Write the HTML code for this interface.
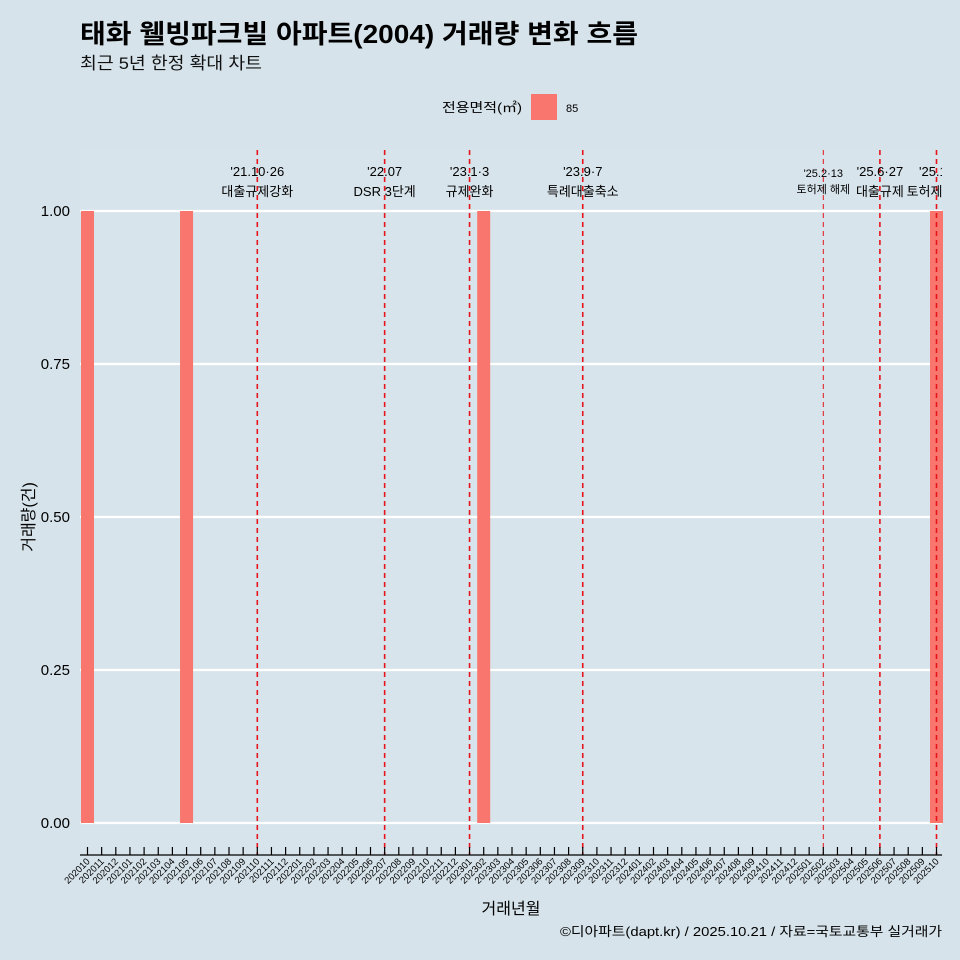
<!DOCTYPE html>
<html><head><meta charset="utf-8"><style>
html,body{margin:0;padding:0;overflow:hidden;width:960px;height:960px;background:#d6e3ea;font-family:"Liberation Sans","Noto Sans CJK KR",sans-serif;}
svg{display:block}
svg text{font-family:"Liberation Sans","Noto Sans CJK KR",sans-serif;}
</style></head><body>
<svg width="960" height="960" xmlns="http://www.w3.org/2000/svg">
<rect width="960" height="960" fill="#d6e3ea"/>
<text x="80" y="43" font-size="26" font-weight="bold" fill="#000" textLength="558" lengthAdjust="spacingAndGlyphs">태화 웰빙파크빌 아파트(2004) 거래량 변화 흐름</text>
<text x="80" y="69" font-size="17" fill="#111" textLength="182" lengthAdjust="spacingAndGlyphs">최근 5년 한정 확대 차트</text>
<g>
<text x="442" y="112" font-size="13" textLength="80" lengthAdjust="spacingAndGlyphs">전용면적(㎡)</text>
<rect x="531" y="94" width="26" height="26" fill="#f8766d"/>
<text x="566" y="112" font-size="11">85</text>
</g>
<defs><clipPath id="pc"><rect x="80" y="140" width="862" height="720"/></clipPath></defs>
<rect x="80" y="150" width="862" height="705" fill="#d7e4eb"/>
<g id="grid"></g><g id="bars"></g><g id="events" clip-path="url(#pc)"></g><g id="xaxis"></g><g id="yaxis"></g>
<text x="511" y="914" font-size="16" text-anchor="middle">거래년월</text>
<text transform="translate(34,517) rotate(-90)" font-size="16" text-anchor="middle">거래량(건)</text>
<text x="942" y="936" font-size="13" text-anchor="end" textLength="382" lengthAdjust="spacingAndGlyphs">©디아파트(dapt.kr) / 2025.10.21 / 자료=국토교통부 실거래가</text>
</svg>
<script>
const months=[];for(let y=2020,m=10;y*100+m<=202510;){months.push(''+y+(m<10?'0':'')+m);m++;if(m>12){m=1;y++;}}
const barMonths=['202010','202105','202302','202510'];
const barValues=[1,1,1,1];
const yTicks=[0,0.25,0.5,0.75,1];
const yTickLabels=['0.00','0.25','0.50','0.75','1.00'];
const eventMonths=['202110','202207','202301','202309','202502','202506','202510'];
const eventDates=["'21.10·26","'22.07","'23.1·3","'23.9·7","'25.2·13","'25.6·27","'25.10"];
const eventLabels=['대출규제강화','DSR 3단계','규제완화','특례대출축소','토허제 해제','대출규제','토허제확대'];
const NS='http://www.w3.org/2000/svg';
const xS=m=>87.5+months.indexOf(m)*14.15;
const yS=v=>823-v*612;
function mk(t,a,p){const e=document.createElementNS(NS,t);for(const k in a)e.setAttribute(k,a[k]);p.appendChild(e);return e;}
const grid=document.getElementById('grid'),yax=document.getElementById('yaxis');
yTicks.forEach((v,i)=>{
const l=mk('line',{x1:80,x2:942,y1:yS(v),y2:yS(v),stroke:'#fff','stroke-width':2.2},grid);


const t=mk('text',{x:70,y:yS(v)+5,'font-size':15,'text-anchor':'end'},yax);t.textContent=yTickLabels[i];


});
const bars=document.getElementById('bars');
barMonths.forEach((m,i)=>{
const r=mk('rect',{x:xS(m)-6.5,y:yS(barValues[i]),width:13,height:yS(0)-yS(barValues[i]),fill:'#f8766d'},bars);


});
const ev=document.getElementById('events');
eventMonths.forEach((m,i)=>{
const x=xS(m),thin=m==='202502';
const l=mk('line',{x1:x,x2:x,y1:150,y2:855,stroke:'#e8141c','stroke-width':thin?1:1.6,'stroke-dasharray':'5,4'},ev);


const fs=thin?11:13;
const a=mk('text',{x:x,y:thin?177:176,'font-size':fs,'text-anchor':'middle'},ev);a.textContent=eventDates[i];


const b=mk('text',{x:x,y:thin?193:196,'font-size':fs,'text-anchor':'middle'},ev);b.textContent=eventLabels[i];


});
const xa=document.getElementById('xaxis');
const al=mk('line',{x1:80,x2:942,y1:855,y2:855,stroke:'#000','stroke-width':1.2},xa);


months.forEach(m=>{
const x=xS(m);
const tk=mk('line',{x1:x,x2:x,y1:847,y2:855,stroke:'#000','stroke-width':1.2},xa);


const t=mk('text',{transform:`translate(${x+3},862) rotate(-45)`,'font-size':9.5,'text-anchor':'end'},xa);t.textContent=m;


});
</script>
</body></html>
